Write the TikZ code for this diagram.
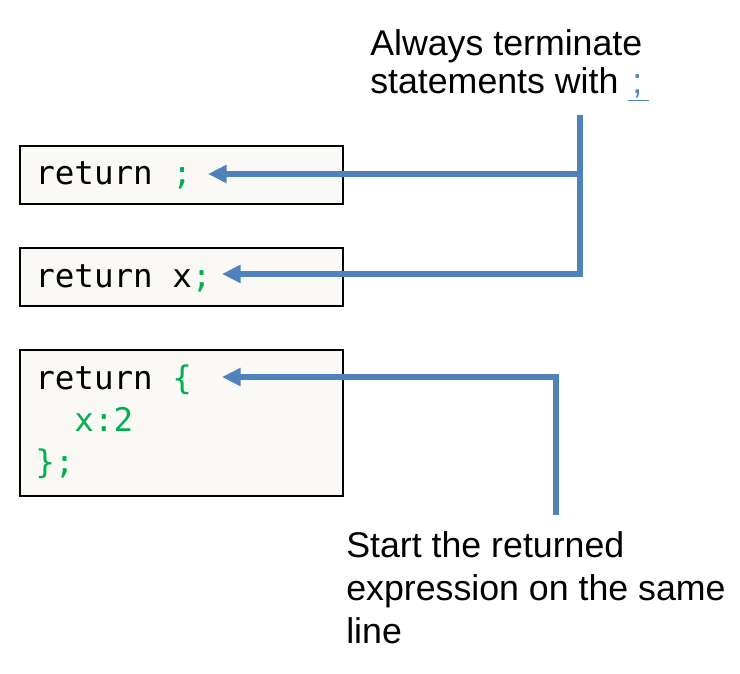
\documentclass[tikz,border=0pt]{standalone}
\usepackage{fontspec}
\setmainfont{Liberation Sans}
\newfontfamily\codefont{DejaVu Sans Mono}
\usetikzlibrary{arrows.meta}
\definecolor{arrowblue}{HTML}{4F81BD}
\definecolor{codegreen}{HTML}{00B050}
\definecolor{boxfill}{HTML}{FAF9F5}
\begin{document}
\begin{tikzpicture}[x=0.75pt,y=-0.75pt]
    \tikzstyle{every node}+=[inner sep=0pt]
    \tikzstyle{codebox}=[draw=black, line width=1.5pt, fill=boxfill, anchor=north west, minimum width=242pt]
    \tikzstyle{code}=[font=\codefont\fontsize{24.4}{31.2}\selectfont, anchor=base west, align=left]
    \tikzstyle{note}=[font=\fontsize{26.8}{32}\selectfont, anchor=base west, align=left]
    \tikzstyle{pointer}=[arrowblue, line width=4.5pt, -{Triangle[length=14pt,width=13pt]}]
    \useasboundingbox (0,0) rectangle (740,674);
    % code boxes
    \node [codebox, minimum height=43.5pt] (box1) at (19,145) {};
    \node [codebox, minimum height=43.5pt] (box2) at (19,247) {};
    \node [codebox, minimum height=109.5pt] (box3) at (19,349) {};
    \node [code] (code1) at (35,185) {return {\color{codegreen};}};
    \node [code] (code2) at (35,287) {return x{\color{codegreen};}};
    % base of a multi-line node is its last line
    \node [code] (code3) at (35,473) {return {\color{codegreen}\{}\\
      {\color{codegreen}\ \ x:2}\\
      {\color{codegreen}\};}};
    % notes
    \node [note, font=\fontsize{26.8}{29}\selectfont] (rule) at (370,94) {Always terminate\\statements with {\color{arrowblue}\underline{\kern3pt;\kern5pt}}};
    \node [note] (hint) at (346,643) {Start the returned\\expression on the same\\line};
    % connectors
    \coordinate (join) at (580,115);
    \coordinate (tip1) at (208,174);
    \coordinate (tip2) at (222,274);
    \coordinate (start3) at (556,515);
    \coordinate (tip3) at (222,377);
    \draw [pointer] (join) |- (tip2);
    \draw [pointer] (join |- tip1) -- (tip1);
    \draw [pointer] (start3) |- (tip3);
\end{tikzpicture}
\end{document}
